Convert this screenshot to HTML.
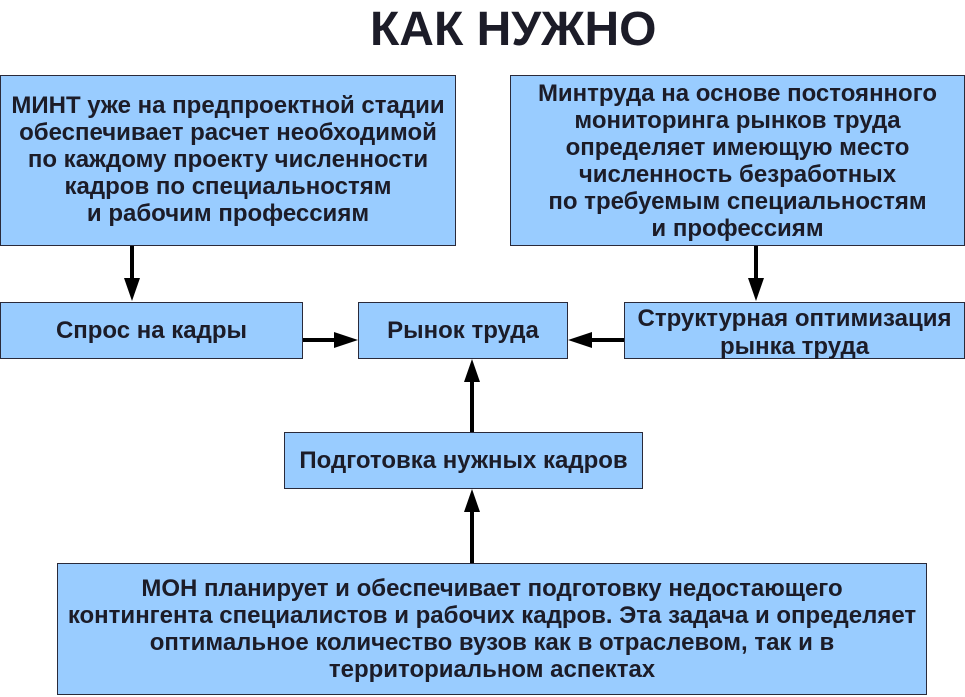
<!DOCTYPE html>
<html><head><meta charset="utf-8"><style>
body{margin:0;width:965px;height:697px;background:#fff;position:relative;overflow:hidden;font-family:"Liberation Sans",sans-serif;font-weight:bold;color:#1c1c28}
.b{position:absolute;background:#99ccff;border:1.5px solid #2a2a3a;box-sizing:border-box;display:flex;align-items:center;justify-content:center;text-align:center;font-size:24px;line-height:27px;white-space:nowrap}
.t{position:absolute;left:370px;top:2px;font-size:48px;white-space:nowrap}
</style></head><body>
<div class="t">КАК НУЖНО</div>
<div class="b" style="left:0;top:75px;width:456px;height:171px;padding-bottom:2px">МИНТ уже на предпроектной стадии<br>обеспечивает расчет необходимой<br>по каждому проекту численности<br>кадров по специальностям<br>и рабочим профессиям</div>
<div class="b" style="left:510px;top:75px;width:455px;height:171px">Минтруда на основе постоянного<br>мониторинга рынков труда<br>определяет имеющую место<br>численность безработных<br>по требуемым специальностям<br>и профессиям</div>
<div class="b" style="left:0;top:302px;width:303px;height:57px">Спрос на кадры</div>
<div class="b" style="left:358px;top:302px;width:210px;height:57px">Рынок труда</div>
<div class="b" style="left:624px;top:302px;width:341px;height:57px;line-height:28px;padding-top:4px">Структурная оптимизация<br>рынка труда</div>
<div class="b" style="left:284px;top:432px;width:359px;height:57px">Подготовка нужных кадров</div>
<div class="b" style="left:57px;top:563px;width:870px;height:132px">МОН планирует и обеспечивает подготовку недостающего<br>контингента специалистов и рабочих кадров. Эта задача и определяет<br>оптимальное количество вузов как в отраслевом, так и в<br>территориальном аспектах</div>
<svg width="965" height="697" style="position:absolute;left:0;top:0" fill="#000" stroke="#000">
<g stroke-width="4">
<line x1="132" y1="246" x2="132" y2="280"/>
<line x1="756" y1="246" x2="756" y2="280"/>
<line x1="303" y1="340" x2="336" y2="340"/>
<line x1="624" y1="340" x2="590" y2="340"/>
<line x1="472" y1="432" x2="472" y2="380"/>
<line x1="472" y1="563" x2="472" y2="510"/>
</g>
<g stroke="none">
<polygon points="124,278 140,278 132,301"/>
<polygon points="748,278 764,278 756,301"/>
<polygon points="334,332 334,348 358,340"/>
<polygon points="592,332 592,348 568,340"/>
<polygon points="464,382 480,382 472,359"/>
<polygon points="464,512 480,512 472,489"/>
</g>
</svg>
</body></html>
